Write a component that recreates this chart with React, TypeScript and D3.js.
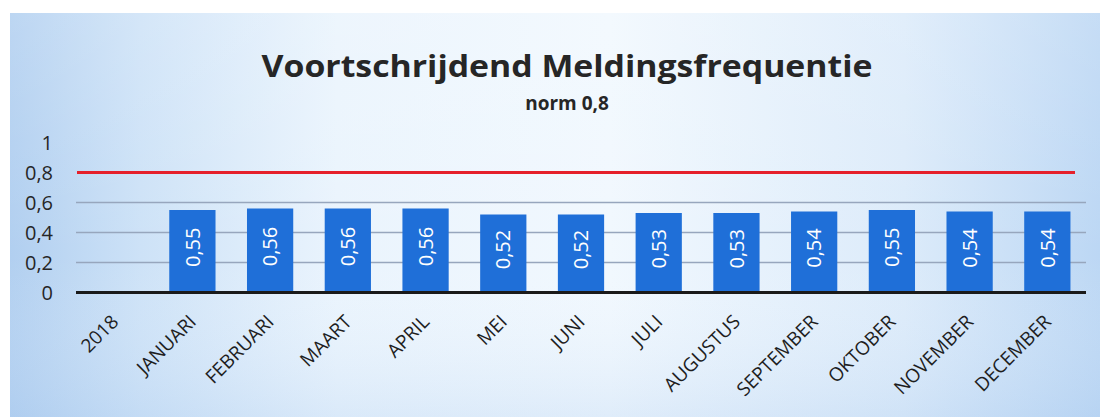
import React from "react";
import * as d3 from "d3";

const categories = ["2018", "JANUARI", "FEBRUARI", "MAART", "APRIL", "MEI", "JUNI", "JULI", "AUGUSTUS", "SEPTEMBER", "OKTOBER", "NOVEMBER", "DECEMBER"];
const values: (number | null)[] = [null, 0.55, 0.56, 0.56, 0.56, 0.52, 0.52, 0.53, 0.53, 0.54, 0.55, 0.54, 0.54];
const yTicks = [0, 0.2, 0.4, 0.6, 0.8, 1];
const gridTicks = [0.2, 0.4, 0.6];
const norm = 0.8;
const title = "Voortschrijdend Meldingsfrequentie";
const subtitle = "norm 0,8";

const W = 1100, H = 417;
const fmt = (v: number) => String(v).replace(".", ",");
const FONT = "'Open Sans', 'Noto Sans', sans-serif";

export default function App() {
  const x = d3.scaleBand<string>().domain(categories).range([76, 1086]).paddingInner(0.405).paddingOuter(0.2);
  const y = d3.scaleLinear().domain([0, 1]).range([292.5, 142.5]);
  return (
    <svg width={W} height={H} style={{ position: "absolute", left: 0, top: 0 }} fontFamily={FONT}>
      <defs>
        <linearGradient id="bgH" x1="0" y1="0" x2="1" y2="0">
          <stop offset="0%" stopColor="#b1cff0" />
          <stop offset="12%" stopColor="#cde2f7" />
          <stop offset="30%" stopColor="#eaf4fd" />
          <stop offset="55%" stopColor="#f1f8fe" />
          <stop offset="82%" stopColor="#dcebfa" />
          <stop offset="100%" stopColor="#bcd7f4" />
        </linearGradient>
        <linearGradient id="bgV" x1="0" y1="0" x2="0" y2="1">
          <stop offset="0%" stopColor="#ffffff" stopOpacity="0.15" />
          <stop offset="60%" stopColor="#ffffff" stopOpacity="0" />
          <stop offset="100%" stopColor="#a9c9ee" stopOpacity="0.25" />
        </linearGradient>
      </defs>
      <rect x={0} y={0} width={W} height={H} fill="#ffffff" />
      <rect x={10} y={13} width={W - 10} height={H - 13} fill="url(#bgH)" />
      <rect x={10} y={13} width={W - 10} height={H - 13} fill="url(#bgV)" />

      <text x={567} y={77} textAnchor="middle" fontSize={30} fontWeight="bold" fill="#262626" textLength={611} lengthAdjust="spacingAndGlyphs">{title}</text>
      <text x={567} y={110} textAnchor="middle" fontSize={19} fontWeight="bold" fill="#262626">{subtitle}</text>

      {yTicks.map((t) => (
        <text key={t} x={53} y={y(t)} dy="0.36em" textAnchor="end" fontSize={20} fill="#262626">{fmt(t)}</text>
      ))}

      {gridTicks.map((t) => (
        <line key={t} x1={76} x2={1086} y1={y(t)} y2={y(t)} stroke="#97a6bd" strokeWidth={1.6} />
      ))}

      {categories.map((c, i) => {
        const v = values[i];
        if (v == null) return null;
        const bx = x(c)!;
        const bw = x.bandwidth();
        const cx = bx + bw / 2;
        const cy = (y(v) + y(0)) / 2 - 4;
        return (
          <g key={c}>
            <rect x={bx} y={y(v)} width={bw} height={y(0) - y(v)} fill="#1f6fd8" />
            <text x={cx} y={cy} transform={`rotate(-90 ${cx} ${cy})`} textAnchor="middle" dy="0.36em" fontSize={20} fill="#ffffff">{fmt(v)}</text>
          </g>
        );
      })}

      <line x1={77} x2={1075} y1={y(norm)} y2={y(norm)} stroke="#e5202b" strokeWidth={3.2} />
      <line x1={76} x2={1086} y1={y(0)} y2={y(0)} stroke="#1a1a1a" strokeWidth={3} />

      {categories.map((c) => {
        const ax = x(c)! + x.bandwidth() / 2 + 5;
        const ay = 323;
        return (
          <text key={c} x={ax} y={ay} transform={`rotate(-45 ${ax} ${ay})`} textAnchor="end" fontSize={19} fill="#1e1e1e">{c}</text>
        );
      })}
    </svg>
  );
}
